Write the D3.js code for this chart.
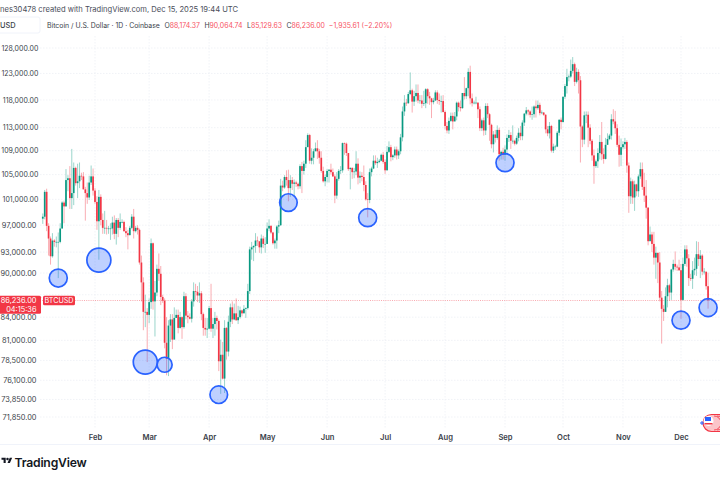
<!DOCTYPE html>
<html><head><meta charset="utf-8">
<script src="https://cdn.jsdelivr.net/npm/d3@7"></script>
<style>html,body{margin:0;padding:0;background:#fff;overflow:hidden}svg{display:block}text{font-family:Inter,"Noto Sans",sans-serif}</style>
</head><body><svg id="c" width="720" height="480"></svg>
<script>
const firstDay = "2025-01-05";
const opens = [
98.0,98.3,102.2,96.9,95.0,92.4,94.7,94.5,94.5,94.5,96.5,100.5,99.9,104.1,104.4,101.2,102.0,106.1,103.6,103.9,104.8,104.7,102.6,102.0,101.3,103.7,104.7,
102.4,100.6,97.6,101.4,97.8,96.6,96.6,96.5,96.5,96.5,97.4,95.7,97.8,96.6,97.5,97.5,96.1,95.8,95.5,96.6,98.3,96.1,96.6,96.3,91.5,88.7,84.7,84.7,
84.3,86.0,94.3,86.1,87.3,90.6,89.9,86.7,86.2,80.7,78.7,82.9,83.7,81.1,83.9,84.3,82.6,84.0,82.7,86.8,84.2,84.0,83.8,86.1,87.5,87.4,86.9,87.2,84.4,82.6,82.4,
82.5,85.2,82.5,83.1,83.9,83.5,78.4,79.2,76.3,82.6,79.6,83.4,85.3,83.7,84.5,83.6,84.0,84.9,84.5,85.1,85.2,87.5,93.4,93.7,93.9,94.7,94.6,93.7,95.0,94.2,
94.2,96.5,96.9,95.9,94.3,94.7,96.8,97.0,103.2,102.9,104.6,104.1,102.8,104.1,103.5,103.7,103.5,103.1,106.4,105.6,106.8,109.6,111.7,107.3,107.8,108.9,109.4,108.9,107.8,105.6,103.9,
104.6,105.6,105.8,105.4,104.7,101.6,104.3,105.6,105.7,110.3,110.2,108.6,105.9,106.1,105.4,105.5,106.8,104.5,104.8,104.6,103.3,101.0,100.9,105.4,106.0,107.3,106.9,107.1,107.3,108.3,
107.1,105.7,108.8,109.6,107.9,108.2,109.2,108.2,108.9,111.3,115.9,117.5,117.4,119.1,119.8,117.7,118.7,119.3,117.9,117.9,117.3,117.4,120.0,118.7,118.3,117.6,117.9,119.4,118.0,117.8,117.8,
115.8,113.3,112.5,114.2,115.1,114.1,115.0,117.5,116.7,116.5,119.3,118.7,120.2,123.3,118.3,117.4,117.5,117.5,116.3,112.9,114.3,112.5,116.9,115.4,113.5,110.1,111.8,111.2,112.6,108.4,108.8,
108.3,109.2,111.2,111.7,110.7,110.7,110.2,111.2,112.1,111.5,113.9,115.5,116.1,115.9,115.3,115.4,116.8,116.5,117.1,115.6,115.7,115.3,112.7,112.0,113.3,109.0,109.7,109.7,112.1,114.4,
114.0,118.6,120.6,122.3,122.4,123.5,124.8,121.4,123.3,121.7,113.2,110.9,115.2,115.3,113.0,110.7,108.2,106.4,107.2,108.6,110.5,108.4,107.6,110.0,111.0,111.6,114.5,114.1,112.9,110.0,108.3,
109.6,110.1,110.5,106.5,101.5,103.9,101.3,103.4,102.3,104.7,105.9,103.0,101.6,99.7,94.6,95.6,94.2,92.2,92.9,91.5,86.6,85.1,84.7,86.8,88.3,87.3,90.5,91.3,90.9,90.8,
90.4,86.3,91.3,93.4,92.1,89.3,89.2,90.4,90.6,92.7,92.0,92.5,90.2,90.2,88.17];
const closes = [
98.3,102.2,96.9,95.0,92.4,94.7,94.5,94.5,94.5,96.5,100.5,99.9,104.1,104.4,101.2,102.0,106.1,103.6,103.9,104.8,104.7,102.6,102.0,101.3,103.7,104.7,102.4,
100.6,97.6,101.4,97.8,96.6,96.6,96.5,96.5,96.5,97.4,95.7,97.8,96.6,97.5,97.5,96.1,95.8,95.5,96.6,98.3,96.1,96.6,96.3,91.5,88.7,84.7,84.7,84.3,
86.0,94.3,86.1,87.3,90.6,89.9,86.7,86.2,80.7,78.7,82.9,83.7,81.1,83.9,84.3,82.6,84.0,82.7,86.8,84.2,84.0,83.8,86.1,87.5,87.4,86.9,87.2,84.4,82.6,82.4,82.5,
85.2,82.5,83.1,83.9,83.5,78.4,79.2,76.3,82.6,79.6,83.4,85.3,83.7,84.5,83.6,84.0,84.9,84.5,85.1,85.2,87.5,93.4,93.7,93.9,94.7,94.6,93.7,95.0,94.2,94.2,
96.5,96.9,95.9,94.3,94.7,96.8,97.0,103.2,102.9,104.6,104.1,102.8,104.1,103.5,103.7,103.5,103.1,106.4,105.6,106.8,109.6,111.7,107.3,107.8,108.9,109.4,108.9,107.8,105.6,103.9,104.6,
105.6,105.8,105.4,104.7,101.6,104.3,105.6,105.7,110.3,110.2,108.6,105.9,106.1,105.4,105.5,106.8,104.5,104.8,104.6,103.3,101.0,100.9,105.4,106.0,107.3,106.9,107.1,107.3,108.3,107.1,
105.7,108.8,109.6,107.9,108.2,109.2,108.2,108.9,111.3,115.9,117.5,117.4,119.1,119.8,117.7,118.7,119.3,117.9,117.9,117.3,117.4,120.0,118.7,118.3,117.6,117.9,119.4,118.0,117.8,117.8,115.8,
113.3,112.5,114.2,115.1,114.1,115.0,117.5,116.7,116.5,119.3,118.7,120.2,123.3,118.3,117.4,117.5,117.5,116.3,112.9,114.3,112.5,116.9,115.4,113.5,110.1,111.8,111.2,112.6,108.4,108.8,108.3,
109.2,111.2,111.7,110.7,110.7,110.2,111.2,112.1,111.5,113.9,115.5,116.1,115.9,115.3,115.4,116.8,116.5,117.1,115.6,115.7,115.3,112.7,112.0,113.3,109.0,109.7,109.7,112.1,114.4,114.0,
118.6,120.6,122.3,122.4,123.5,124.8,121.4,123.3,121.7,113.2,110.9,115.2,115.3,113.0,110.7,108.2,106.4,107.2,108.6,110.5,108.4,107.6,110.0,111.0,111.6,114.5,114.1,112.9,110.0,108.3,109.6,
110.1,110.5,106.5,101.5,103.9,101.3,103.4,102.3,104.7,105.9,103.0,101.6,99.7,94.6,95.6,94.2,92.2,92.9,91.5,86.6,85.1,84.7,86.8,88.3,87.3,90.5,91.3,90.9,90.8,90.4,
86.3,91.3,93.4,92.1,89.3,89.2,90.4,90.6,92.7,92.0,92.5,90.2,90.2,88.17,86.236];
const highs = [
98.8,102.5,102.7,97.3,95.3,95.8,94.9,95.3,95.9,97.3,100.7,100.8,105.9,104.9,106.4,109.3,107.0,106.3,106.8,107.0,105.3,105.4,103.0,103.7,104.8,106.5,106.0,
102.8,101.5,102.5,101.8,98.8,99.2,97.8,96.9,97.3,98.3,98.5,98.1,98.1,98.8,97.9,97.7,96.7,96.3,96.9,98.7,99.5,96.9,97.0,96.5,92.5,89.4,87.0,85.2,
86.5,95.0,94.4,88.9,91.2,92.8,91.0,87.0,86.5,84.0,83.6,84.4,84.4,85.3,85.0,85.0,84.7,84.1,87.4,87.2,84.8,84.5,86.4,88.7,88.5,88.2,88.7,87.5,84.6,83.9,83.9,
85.5,88.5,83.9,84.7,84.2,83.7,81.1,80.8,83.6,82.7,84.2,85.8,86.1,85.8,86.5,85.5,85.4,85.0,85.6,85.3,88.5,93.8,94.5,94.0,95.8,95.3,94.3,95.6,95.4,95.2,
97.4,97.9,97.0,96.0,95.0,97.0,97.7,104.3,104.0,104.9,105.7,105.8,104.9,104.6,104.2,104.0,103.7,106.7,107.1,107.3,110.8,112.0,111.9,109.4,109.3,110.4,110.8,109.3,108.9,106.3,105.0,
105.9,105.9,106.8,106.0,105.0,105.4,105.9,106.4,110.4,110.4,110.4,108.4,106.2,106.2,106.1,108.9,107.7,105.5,105.4,106.5,103.9,102.0,106.0,106.3,108.2,108.2,107.8,107.6,108.5,108.8,
107.5,109.8,110.6,110.0,108.4,109.7,109.7,109.2,111.9,116.8,118.9,118.2,119.5,123.2,120.1,119.7,120.9,120.9,118.9,118.9,119.7,120.2,120.2,119.5,118.4,118.4,119.8,119.8,119.2,118.8,118.9,
116.1,114.0,114.8,115.7,115.7,115.8,117.7,117.7,117.9,119.3,122.3,120.3,124.0,124.5,119.2,117.9,118.6,117.6,116.8,114.6,114.8,117.4,117.4,115.6,113.7,112.4,112.6,113.4,113.0,109.0,109.5,
109.9,111.8,112.6,112.2,113.4,110.9,111.6,112.9,113.3,114.3,115.6,116.7,116.3,116.1,116.8,117.0,117.9,117.9,117.5,116.1,115.8,115.4,113.3,114.0,113.5,110.2,110.0,112.4,114.5,114.8,
118.6,121.0,123.9,122.8,125.7,126.2,125.1,124.1,123.8,122.5,113.4,115.9,115.9,115.9,113.6,111.0,109.2,107.5,109.4,111.7,114.0,109.4,111.2,112.0,111.9,115.4,116.3,116.0,113.6,111.6,111.1,
110.6,111.2,110.8,107.0,104.5,104.2,104.0,103.5,105.0,107.0,107.0,105.3,104.1,99.8,96.8,96.0,96.0,93.8,92.9,93.0,87.5,85.6,88.0,89.2,88.5,90.6,91.9,93.1,91.2,91.9,
91.3,92.2,94.0,94.0,92.7,89.9,91.7,92.2,94.6,94.5,93.3,92.7,90.7,89.8,90.065];
const lows = [
97.2,97.9,96.1,92.5,91.2,92.2,93.8,93.7,89.3,94.3,96.5,97.3,99.9,102.3,99.5,99.5,100.1,103.2,101.2,102.8,104.1,102.6,97.7,100.3,100.9,103.3,101.6,
100.3,96.3,91.9,97.0,95.7,95.7,95.6,95.7,94.8,95.6,94.9,94.1,95.2,96.3,97.3,96.0,95.2,93.4,95.5,96.4,95.0,95.9,95.6,91.2,86.1,82.3,82.7,78.3,
83.2,85.1,85.0,81.5,86.8,88.9,85.6,85.9,80.0,76.7,76.6,80.8,79.9,81.2,83.9,81.9,82.5,81.2,82.5,83.7,83.2,83.7,83.3,85.4,86.3,86.0,85.9,83.6,81.6,81.6,81.3,
82.4,82.1,81.3,81.6,82.4,77.2,74.5,76.2,74.6,78.6,79.0,82.7,83.1,83.6,83.5,83.1,83.8,84.1,84.6,83.9,85.0,87.1,91.9,91.7,92.9,93.9,92.9,92.8,93.6,92.9,
94.2,96.1,95.7,94.1,93.5,93.5,95.8,96.9,102.3,102.7,103.2,100.7,101.4,102.5,101.4,103.0,102.6,102.7,102.0,105.0,106.1,109.7,106.8,106.7,106.7,108.9,107.6,106.8,105.3,103.7,103.1,
103.7,103.7,105.0,104.6,100.4,101.1,104.0,105.1,105.3,108.3,108.1,105.6,102.6,104.3,104.4,104.9,103.4,103.6,103.9,102.3,100.8,98.2,100.4,104.7,105.9,106.6,106.1,106.9,107.2,106.8,
105.1,105.7,108.6,107.2,107.4,107.8,107.5,107.6,108.4,110.6,115.1,116.9,117.3,118.9,115.7,116.9,117.7,117.4,117.3,116.5,116.9,116.5,117.3,117.1,114.7,117.2,117.8,117.3,117.1,115.7,115.7,
112.7,112.0,111.9,114.0,112.7,114.3,114.3,115.9,115.9,116.4,118.1,118.2,118.7,117.2,116.8,117.2,117.2,114.7,112.4,112.4,111.6,111.7,114.7,110.7,109.4,108.7,110.4,110.9,107.3,107.5,107.5,
107.3,108.6,110.5,109.3,110.2,109.9,110.0,110.6,110.8,110.8,113.3,115.2,115.2,114.8,114.4,114.8,114.8,116.2,115.2,115.4,115.1,112.0,111.5,111.1,108.7,108.6,109.1,109.6,111.6,112.7,
113.9,118.2,119.2,121.5,122.1,123.0,120.6,121.1,119.2,107.0,109.6,110.1,113.8,109.6,110.1,107.3,103.5,106.1,106.1,107.5,107.4,106.8,107.5,110.3,110.8,110.9,113.6,111.9,109.6,106.3,106.4,
109.2,109.3,105.3,98.9,100.3,100.3,99.2,101.5,101.4,104.3,102.5,100.6,98.0,94.0,94.9,93.0,91.2,89.2,88.6,86.1,80.6,83.5,84.7,85.3,86.2,86.3,90.2,90.4,90.3,90.3,
83.8,86.2,91.0,90.9,88.2,88.9,87.8,89.7,89.6,91.0,89.3,89.7,89.8,87.7,85.13];
const priceTicks = [128000,123000,118000,113000,109000,105000,101000,97000,93000,90000,87000,84000,81000,78500,76100,73850,71850];
const monthTicks = ["2025-02-01","2025-03-01","2025-04-01","2025-05-01","2025-06-01","2025-07-01","2025-08-01","2025-09-01","2025-10-01","2025-11-01","2025-12-01"];
const markerDates = ["2025-01-13","2025-02-03","2025-02-27","2025-03-09","2025-04-06","2025-05-12","2025-06-22","2025-09-01","2025-12-01","2025-12-15"];
const markerPrices = [89300,91850,78300,77970,74400,100500,98150,106970,83600,85260];
const markerRadii = [9,12,12,7.5,8.8,8.8,9,9,9,9];
const lastPrice = 86236;
const titleText = "nes30478 created with TradingView.com, Dec 15, 2025 19:44 UTC";
const symbolText = "Bitcoin / U.S. Dollar · 1D · Coinbase";
const ohlcLabels = [["O","88,174.37"],["H","90,064.74"],["L","85,129.63"],["C","86,236.00"],["","−1,935.61 (−2.20%)"]];

const up="#089981", down="#f23645";
const svg=d3.select("#c");
const parse=d3.utcParse("%Y-%m-%d");
const x=d3.scaleUtc().domain([parse("2025-02-01"),parse("2025-12-01")]).range([95,681]);
const y=d3.scaleLog().domain([128000,71850]).range([48,417]);
const day0=parse(firstDay);
const data=closes.map((c,i)=>({date:d3.utcDay.offset(day0,i),o:opens[i]*1000,h:highs[i]*1000,l:lows[i]*1000,c:c*1000}));

// grid
const grid=svg.append("g").attr("stroke","#eef0f5").attr("stroke-width",.8).attr("stroke-dasharray","1.5 1.5");
grid.selectAll("line.h").data(priceTicks).join("line").attr("x1",40).attr("x2",720).attr("y1",d=>y(d)).attr("y2",d=>y(d));
grid.selectAll("line.v").data(monthTicks).join("line").attr("x1",d=>x(parse(d))).attr("x2",d=>x(parse(d))).attr("y1",36).attr("y2",428);
svg.append("line").attr("x1",0).attr("x2",720).attr("y1",444.5).attr("y2",444.5).attr("stroke","#f0f3fa");

// axes
const ya=svg.append("g").attr("transform","translate(36.5,0)").call(d3.axisLeft(y).tickValues(priceTicks.filter(d=>d!==87000)).tickFormat(d3.format(",.2f")).tickSize(0).tickPadding(0));
ya.select(".domain").remove();
ya.selectAll("text").attr("font-size",d=>d>=100000?7:7.4).attr("dx",d=>d>=100000?1.8:0).attr("fill","#3b3f4a").style("font-family","Inter");
const xa=svg.append("g").attr("transform","translate(0,434.2)").call(d3.axisBottom(x).tickValues(monthTicks.map(parse)).tickFormat(d3.utcFormat("%b")).tickSize(0).tickPadding(0));
xa.select(".domain").remove();
xa.selectAll("text").attr("font-size",7.6).attr("font-weight",600).attr("fill","#3b3f4a").style("font-family","Inter");

// last price line
svg.append("line").attr("x1",40).attr("x2",720).attr("y1",y(lastPrice)).attr("y2",y(lastPrice)).attr("stroke",down).attr("stroke-width",.7).attr("stroke-dasharray","1 1.2").attr("opacity",.7);

// candles
const g=svg.append("g");
g.selectAll("line").data(data).join("line").attr("x1",d=>x(d.date)).attr("x2",d=>x(d.date)).attr("y1",d=>y(d.h)).attr("y2",d=>y(d.l))
 .attr("stroke",d=>d.c>=d.o?up:down).attr("stroke-width",1).attr("opacity",.4);
g.selectAll("rect").data(data).join("rect").attr("x",d=>x(d.date)-.85).attr("width",1.7)
 .attr("y",d=>y(Math.max(d.o,d.c))).attr("height",d=>Math.max(.6,Math.abs(y(d.o)-y(d.c)))).attr("fill",d=>d.c>=d.o?up:down);

// markers
svg.append("g").selectAll("circle").data(markerDates).join("circle").attr("cx",d=>x(parse(d))).attr("cy",(d,i)=>y(markerPrices[i])).attr("r",(d,i)=>markerRadii[i])
 .attr("fill","#2962ff").attr("fill-opacity",.3).attr("stroke","#2962ff").attr("stroke-width",1.7);

// price labels
const yp=y(lastPrice);
svg.append("rect").attr("x",-2).attr("y",yp-4.5).attr("width",43).attr("height",18).attr("rx",1.5).attr("fill",down);
svg.append("text").attr("x",36.5).attr("y",yp+3).attr("text-anchor","end").attr("font-size",7.4).attr("fill","#fff").text(d3.format(",.2f")(lastPrice));
svg.append("text").attr("x",36.5).attr("y",yp+11.2).attr("text-anchor","end").attr("font-size",7.4).attr("fill","#fff").text("04:15:36");
svg.append("rect").attr("x",43).attr("y",yp-4.5).attr("width",32).attr("height",9.5).attr("rx",1.5).attr("fill",down);
svg.append("text").attr("x",59).attr("y",yp+2.9).attr("text-anchor","middle").attr("font-size",7.2).attr("fill","#fff").text("BTCUSD");

// header
svg.append("text").attr("x",0).attr("y",12).attr("font-size",7.6).attr("fill","#4a4e5a").text(titleText);
svg.append("rect").attr("x",-6).attr("y",17).attr("width",46).attr("height",16).attr("rx",2).attr("fill","#fff").attr("stroke","#f0f3fa");
svg.append("text").attr("x",0).attr("y",28).attr("font-size",7.4).attr("font-weight",500).attr("fill","#3b3f4a").text("USD");
const hdr=svg.append("text").attr("x",47).attr("y",28).attr("font-size",6.9).attr("fill","#3b3f4a").text(symbolText);
ohlcLabels.forEach(([k,v])=>{
  if(k) hdr.append("tspan").attr("dx",4.5).text(k);
  hdr.append("tspan").attr("dx",k?0:4).attr("fill","#f7525f").text(v);
});

// footer logo
svg.append("path").attr("transform","translate(1.5,456.5) scale(.3)").attr("fill","#131722")
 .attr("d","M14 22H7V11H0V4h14v18zM28 22h-8l7.5-18h8L28 22z");
svg.append("circle").attr("cx",1.5+20*.3).attr("cy",456.5+8*.3).attr("r",1.25).attr("fill","#131722");
svg.append("text").attr("x",14.5).attr("y",467).attr("font-size",12.2).attr("font-weight",600).attr("letter-spacing","-.2").attr("fill","#131722").text("TradingView");

// event flag
const fl=svg.append("g");
fl.append("rect").attr("x",703).attr("y",414.5).attr("width",24).attr("height",17).attr("rx",8.5).attr("fill","#fbc4c9").attr("stroke",down).attr("stroke-width",1.2);
fl.append("path").attr("d","M714 416a7 7 0 0 1 0 14M717 416a7 7 0 0 1 0 14").attr("fill","none").attr("stroke",down).attr("stroke-width",.8);
fl.append("circle").attr("cx",708.5).attr("cy",421).attr("r",5).attr("fill","#fff");
fl.append("rect").attr("x",705).attr("y",417).attr("width",6).attr("height",4).attr("fill","#2962ff");
fl.append("rect").attr("x",704.5).attr("y",423).attr("width",8).attr("height",1.5).attr("fill",down);
fl.append("path").attr("d","M700 423h4M702 421v4").attr("stroke","#2962ff").attr("stroke-width",1);
</script></body></html>
